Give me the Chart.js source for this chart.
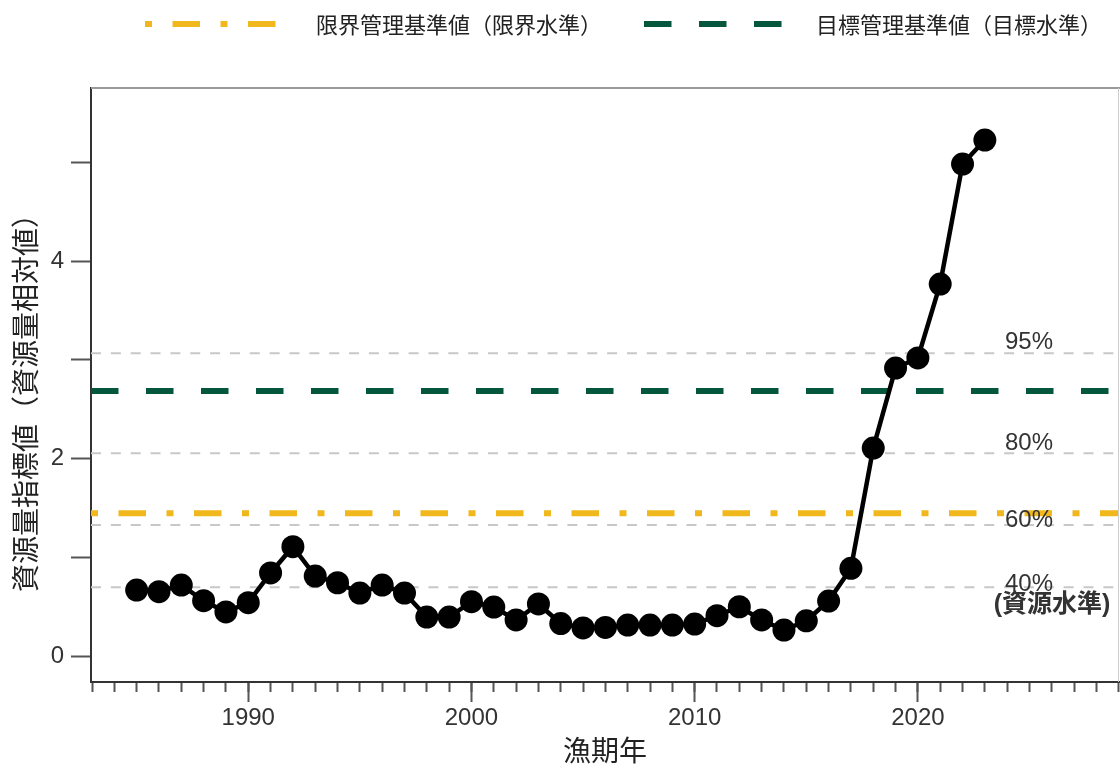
<!DOCTYPE html>
<html><head><meta charset="utf-8">
<script src="https://cdn.jsdelivr.net/npm/chart.js@4/dist/chart.umd.min.js"></script>
<style>html,body{margin:0;padding:0;background:#fff;}#wrap{width:1120px;height:764px;}</style>
</head><body><div id="wrap"><canvas id="c" width="1120" height="764"></canvas></div>
<script>
// ---- data ----
const years = [1985,1986,1987,1988,1989,1990,1991,1992,1993,1994,1995,1996,1997,1998,1999,2000,2001,2002,2003,2004,2005,2006,2007,2008,2009,2010,2011,2012,2013,2014,2015,2016,2017,2018,2019,2020,2021,2022,2023];
const stockIndex = [0.668,0.651,0.719,0.560,0.446,0.540,0.841,1.107,0.810,0.742,0.638,0.719,0.638,0.395,0.395,0.550,0.496,0.365,0.527,0.329,0.284,0.289,0.314,0.314,0.314,0.324,0.408,0.499,0.365,0.263,0.357,0.557,0.888,2.106,2.916,3.018,3.767,4.982,5.225];
const limitLevel = 1.445;
const targetLevel = 2.684;
const percentileLevels = [3.065, 2.053, 1.327, 0.696];
const percentileLabels = ['95%', '80%', '60%', '40%'];
const levelNote = '(資源水準)';
const legendLabels = ['限界管理基準値（限界水準）', '目標管理基準値（目標水準）'];
const xTitle = '漁期年';
const yTitle = '資源量指標値（資源量相対値）';
const xRange = [1982.955, 2029.01];
const yRange = [-0.263, 5.752];

// ---- presentation ----
const NUM_FONT = '"Liberation Sans", Arial, sans-serif';
const CJK_FONT = '"Noto Sans CJK JP", "Noto Sans", sans-serif';
const labelOffsets = [0.11, 0.10, 0.05, 0.03];
const noteValue = 0.515;

const flat = v => [{x: xRange[0], y: v}, {x: xRange[1], y: v}];

const datasets = [
  {label: 'index', data: years.map((y, i) => ({x: y, y: stockIndex[i]})), borderColor: '#000', backgroundColor: '#000',
   borderWidth: 4.5, pointRadius: 11.5, pointBorderWidth: 0, pointBackgroundColor: '#000', order: 0},
  {label: legendLabels[1], data: flat(targetLevel), borderColor: '#04573d', borderWidth: 6, borderDash: [27.5, 27.5], pointRadius: 0, order: 1},
  {label: legendLabels[0], data: flat(limitLevel), borderColor: '#f0b81c', borderWidth: 6, borderDash: [7, 20.5, 27.5, 20.5], pointRadius: 0, order: 2}
];
percentileLevels.forEach((v, i) => datasets.push({label: percentileLabels[i], data: flat(v), borderColor: '#c8c8c8', borderWidth: 2, borderDash: [10, 9.85], pointRadius: 0, order: 3}));

const decor = {
  id: 'decor',
  afterDatasetsDraw(chart) {
    const {ctx, chartArea} = chart;
    const ys = chart.scales.y;
    ctx.save();
    ctx.strokeStyle = '#999'; ctx.lineWidth = 2;
    ctx.beginPath(); ctx.moveTo(chartArea.left, chartArea.top); ctx.lineTo(chartArea.right + 1, chartArea.top); ctx.stroke();
    ctx.strokeStyle = '#ccc'; ctx.lineWidth = 1;
    ctx.beginPath(); ctx.moveTo(chartArea.right - 0.5, chartArea.top); ctx.lineTo(chartArea.right - 0.5, chartArea.bottom); ctx.stroke();
    ctx.fillStyle = '#333'; ctx.textAlign = 'center'; ctx.textBaseline = 'middle';
    ctx.font = '24px ' + NUM_FONT;
    percentileLevels.forEach((v, i) => {
      ctx.fillText(percentileLabels[i], 1029, ys.getPixelForValue(v + labelOffsets[i]));
    });
    ctx.font = 'bold 25px "Liberation Sans", ' + CJK_FONT;
    ctx.fillText(levelNote, 1052, ys.getPixelForValue(noteValue));
    // y axis title
    ctx.save();
    ctx.translate(25, 396); ctx.rotate(-Math.PI / 2);
    ctx.fillStyle = '#222'; ctx.font = '28px ' + CJK_FONT;
    ctx.fillText(yTitle, 0, 0);
    ctx.restore();
    ctx.restore();
  },
  afterDraw(chart) {
    const {ctx} = chart;
    const ds = chart.data.datasets;
    const items = [
      {d: ds[2], x0: 145, x1: 276, tx: 316},
      {d: ds[1], x0: 644, x1: 782, tx: 816}
    ];
    ctx.save();
    items.forEach(it => {
      ctx.strokeStyle = it.d.borderColor; ctx.lineWidth = it.d.borderWidth; ctx.lineCap = 'butt';
      ctx.setLineDash(it.d.borderDash);
      ctx.beginPath(); ctx.moveTo(it.x0, 24); ctx.lineTo(it.x1, 24); ctx.stroke();
      ctx.setLineDash([]);
      ctx.fillStyle = '#222'; ctx.font = '22px ' + CJK_FONT; ctx.textAlign = 'left'; ctx.textBaseline = 'middle';
      ctx.fillText(it.d.label, it.tx, 25);
    });
    ctx.restore();
  }
};

new Chart(document.getElementById('c'), {
  type: 'line',
  data: {datasets},
  plugins: [decor],
  options: {
    responsive: false, animation: false, devicePixelRatio: 1,
    layout: {autoPadding: false, padding: {top: 88, right: 1, left: 0, bottom: 0}},
    plugins: {legend: {display: false}, tooltip: {enabled: false}},
    elements: {line: {tension: 0}},
    scales: {
      x: {
        type: 'linear', position: 'bottom', min: xRange[0], max: xRange[1], weight: 0,
        ticks: {display: false, stepSize: 1, includeBounds: false},
        grid: {drawOnChartArea: false, drawTicks: true, tickLength: 10, tickColor: '#555', tickWidth: 2},
        border: {display: true, color: '#333', width: 2},
        afterFit: s => { s.height = 0; }
      },
      x2: {
        type: 'linear', position: 'bottom', axis: 'x', min: xRange[0], max: xRange[1], weight: 1,
        ticks: {stepSize: 10, includeBounds: false, autoSkip: false, maxRotation: 0, padding: 2,
                color: '#333', font: {family: NUM_FONT, size: 24}, callback: v => String(v)},
        grid: {drawOnChartArea: false, drawTicks: true, tickLength: 20, tickColor: '#555', tickWidth: 2},
        border: {display: true, color: '#333', width: 2},
        title: {display: true, text: xTitle, color: '#222', font: {family: CJK_FONT, size: 28, lineHeight: 1}, padding: 0},
        afterFit: s => { s.height = 82; }
      },
      y: {
        type: 'linear', position: 'left', min: yRange[0], max: yRange[1],
        ticks: {stepSize: 1, includeBounds: false, padding: 7, color: '#333', font: {family: NUM_FONT, size: 24},
                callback: v => (Math.round(v) % 2 === 0 ? String(v) : '')},
        grid: {drawOnChartArea: false, drawTicks: true, tickLength: 20, tickColor: '#555', tickWidth: 2},
        border: {display: true, color: '#333', width: 2},
        afterFit: s => { s.width = 91; }
      }
    }
  }
});
</script></body></html>
